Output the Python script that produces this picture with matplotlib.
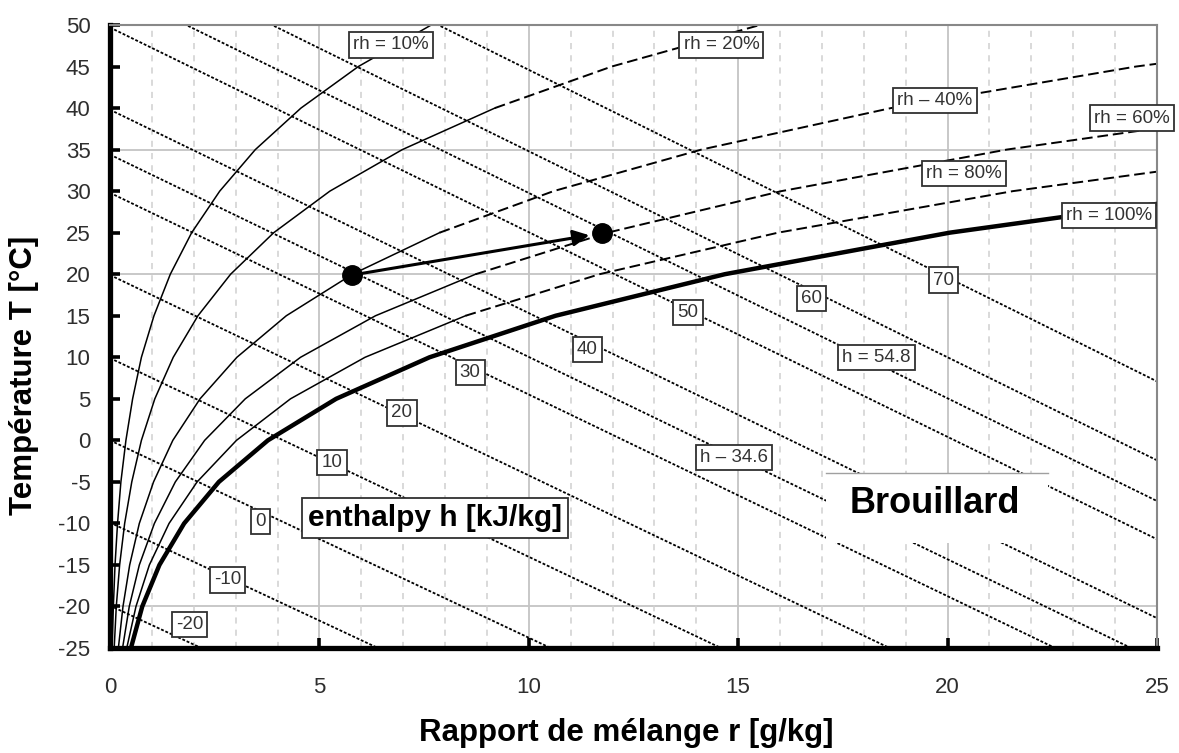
import numpy as np
import matplotlib
matplotlib.use('Agg')
import matplotlib.pyplot as plt
from matplotlib.patches import Rectangle

plt.rcParams['font.family'] = ['Liberation Sans', 'DejaVu Sans']
plt.rcParams['axes.unicode_minus'] = False

# temperature grid for the relative humidity curves
temps = [-25, -20, -15, -10, -5, 0, 5, 10, 15, 20, 25, 30, 35, 40, 45, 50]

# mixing ratio r [g/kg]
rh_10 = [0.05, 0.08, 0.12, 0.18, 0.26, 0.38, 0.54, 0.75, 1.05, 1.44, 1.95, 2.62, 3.47, 4.56, 5.93, 7.67]
rh_20 = [0.10, 0.15, 0.23, 0.35, 0.52, 0.75, 1.07, 1.51, 2.10, 2.88, 3.91, 5.25, 6.98, 9.19, 11.98, 15.52]
rh_40 = [0.20, 0.31, 0.47, 0.70, 1.04, 1.50, 2.15, 3.03, 4.21, 5.79, 7.87, 10.59, 14.12, 18.65, 24.5, 32.0]
rh_60 = [0.30, 0.46, 0.70, 1.06, 1.56, 2.26, 3.23, 4.55, 6.34, 8.73, 11.88, 16.03, 21.41, 28.4, 37.4, 49.1]
rh_80 = [0.40, 0.62, 0.94, 1.41, 2.08, 3.02, 4.31, 6.09, 8.49, 11.69, 15.95, 21.56, 28.9, 38.5, 50.9, 67.2]
rh_100 = [0.50, 0.77, 1.18, 1.77, 2.60, 3.77, 5.40, 7.63, 10.64, 14.68, 20.05, 27.2, 36.6, 48.8, 64.9, 86.3]

rh_names = ["rh = 10%", "rh = 20%", "rh \u2013 40%", "rh = 60%", "rh = 80%", "rh = 100%"]

# enthalpy lines: T at r = 0 and T at r = 25
h_vals = [-20, -10, 0, 10, 20, 30, 34.6, 40, 50, 54.8, 60, 70]
t_at_r0 = [-19.9, -9.9, 0.0, 9.9, 19.9, 29.8, 34.4, 39.8, 49.7, 54.5, 59.6, 69.6]
t_at_r25 = [-78.4, -68.9, -59.4, -49.9, -40.4, -30.9, -26.5, -21.4, -11.9, -7.3, -2.4, 7.1]

h_names = ["-20", "-10", "0", "10", "20", "30", "h \u2013 34.6", "40", "50", "h = 54.8", "60", "70"]

# the two states and the transformation between them
state_r = [5.78, 11.74]
state_t = [19.9, 24.94]

fig = plt.figure(figsize=(11.79, 7.53), dpi=100)
ax = fig.add_axes([0.0933, 0.1394, 0.888, 0.8274])
ax.set_xlim(0, 25)
ax.set_ylim(-25, 50)

# grid
ax.set_xticks(range(0, 26, 5))
ax.set_xticks(range(0, 26, 1), minor=True)
ax.set_yticks(range(-25, 51, 5))
ax.grid(axis='x', which='minor', color='#d0d0d0', lw=1.1, ls=(0, (4, 4)), zorder=0)
ax.grid(axis='x', which='major', color='#c4c4c4', lw=1.3, ls='-', zorder=0)
for yy in [35, 20, -20]:
    ax.axhline(yy, color='#c4c4c4', lw=1.3, zorder=0)

# enthalpy lines
for h, t0, t25 in zip(h_vals, t_at_r0, t_at_r25):
    ax.plot([0, 25], [t0, t25], color='black', lw=1.3, ls=(0, (1.6, 1.0)), zorder=2)

# relative humidity curves: solid near the origin, dashed further out
T = np.array(temps)
for vals in [rh_10, rh_20, rh_40, rh_60, rh_80]:
    r = np.array(vals)
    k = int(np.searchsorted(r, 7.0))
    ax.plot(r[:k + 1], T[:k + 1], color='black', lw=1.1, zorder=2)
    ax.plot(r[k:], T[k:], color='black', lw=1.4, ls=(0, (5.5, 2.5)), zorder=2)
ax.plot(rh_100, temps, color='black', lw=3.2, zorder=3, solid_capstyle='butt')

# fog region
ax.add_patch(Rectangle((17.1, -12.4), 5.3, 8.5, facecolor='white', edgecolor='none', zorder=4))
ax.plot([17.1, 22.4], [-3.9, -3.9], color='#a0a0a0', lw=1.0, zorder=4)
ax.text(19.7, -7.6, "Brouillard", fontsize=26, fontweight='bold', ha='center', va='center', zorder=5)

box = dict(boxstyle='square,pad=0.22', facecolor='white', edgecolor='#303030', lw=1.3)

h_lab_r = [1.9, 2.8, 3.6, 5.3, 6.97, 8.6, 14.9, 11.4, 13.8, 18.3, 16.75, 19.9]
h_lab_t = [-22.2, -16.8, -9.8, -2.7, 3.3, 8.2, -2.1, 10.9, 15.4, 10.0, 17.1, 19.3]
for name, x, y in zip(h_names, h_lab_r, h_lab_t):
    ax.text(x, y, name, fontsize=13.5, color='#333333', ha='center', va='center', bbox=box, zorder=5)

rh_lab_r = [6.7, 14.6, 19.7, 24.4, 20.4, 23.85]
rh_lab_t = [47.6, 47.6, 40.9, 38.8, 32.1, 27.1]
for name, x, y in zip(rh_names, rh_lab_r, rh_lab_t):
    ax.text(x, y, name, fontsize=13.5, color='#333333', ha='center', va='center', bbox=box,
            zorder=5, clip_on=False)

ax.text(7.75, -9.4, "enthalpy h [kJ/kg]", fontsize=21.5, fontweight='bold', ha='center', va='center',
        bbox=dict(boxstyle='square,pad=0.2', facecolor='white', edgecolor='#303030', lw=1.3), zorder=5)

# transformation arrow and states
ax.annotate('', xy=(state_r[1], state_t[1]), xytext=(state_r[0], state_t[0]),
            arrowprops=dict(arrowstyle='-|>', color='black', lw=2.2, mutation_scale=24,
                            shrinkA=0, shrinkB=9), zorder=6)
ax.plot(state_r, state_t, 'o', color='black', ms=14, zorder=7)

# axes styling
for side in ['left', 'bottom']:
    ax.spines[side].set_linewidth(3.8)
    ax.spines[side].set_color('black')
for side in ['top', 'right']:
    ax.spines[side].set_linewidth(1.5)
    ax.spines[side].set_color('#888888')
ax.tick_params(which='major', direction='in', length=7, width=2.6, color='black',
               labelcolor='#2e2e2e', labelsize=16)
ax.tick_params(which='minor', length=0)
ax.tick_params(axis='x', pad=21)
ax.tick_params(axis='y', pad=14)

ax.set_xlabel("Rapport de mélange r [g/kg]", fontsize=22.5, fontweight='bold')
ax.set_ylabel("Température T [°C]", fontsize=22.5, fontweight='bold')
ax.xaxis.set_label_coords(0.493, -0.113)
ax.yaxis.set_label_coords(-0.068, 0.438)

fig.savefig("out.png", dpi=100)
